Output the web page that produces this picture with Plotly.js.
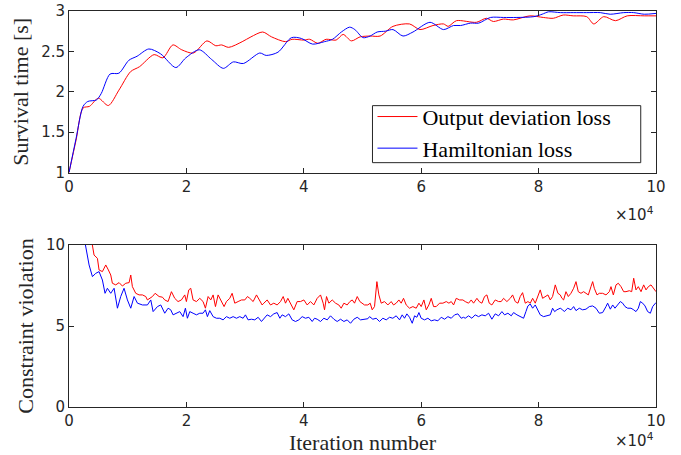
<!DOCTYPE html>
<html>
<head>
<meta charset="utf-8">
<script src="https://cdn.plot.ly/plotly-3.0.1.min.js"></script>
<style>html,body{margin:0;padding:0;background:#fff;}#chart{width:681px;height:455px;}</style>
</head>
<body>
<div id="chart"></div>
<script>
// ---- Survival time (top panel), x in units of 1e4 iterations ----
const survOutX = [0, 0.12, 0.24, 0.35, 0.5, 0.67, 0.85, 1.05, 1.2, 1.45, 1.6, 1.77, 1.92, 2.12, 2.35, 2.5, 2.6, 2.72, 2.95, 3.1, 3.3, 3.45, 3.69, 3.8, 4.0, 4.1, 4.24, 4.38, 4.55, 4.67, 4.81, 4.96, 5.13, 5.3, 5.52, 5.8, 5.98, 6.2, 6.38, 6.46, 6.6, 6.94, 7.11, 7.23, 7.4, 7.57, 7.85, 8.08, 8.25, 8.42, 8.59, 8.82, 8.94, 9.11, 9.31, 9.51, 9.8, 10];
const survOutY = [1, 1.4, 1.80, 1.82, 1.92, 1.83, 2.02, 2.25, 2.31, 2.46, 2.42, 2.58, 2.52, 2.48, 2.63, 2.57, 2.58, 2.55, 2.62, 2.68, 2.74, 2.68, 2.62, 2.65, 2.64, 2.65, 2.60, 2.65, 2.64, 2.71, 2.63, 2.68, 2.69, 2.69, 2.81, 2.84, 2.77, 2.82, 2.84, 2.81, 2.88, 2.86, 2.91, 2.87, 2.90, 2.89, 2.94, 2.92, 2.91, 2.95, 2.94, 2.93, 2.84, 2.93, 2.88, 2.94, 2.94, 2.94];
const survHamX = [0, 0.12, 0.24, 0.32, 0.47, 0.55, 0.7, 0.85, 1.02, 1.16, 1.36, 1.56, 1.82, 1.99, 2.22, 2.43, 2.63, 2.8, 2.97, 3.25, 3.36, 3.56, 3.79, 3.96, 4.15, 4.35, 4.49, 4.64, 4.78, 4.87, 5.01, 5.13, 5.25, 5.39, 5.52, 5.69, 5.86, 6.15, 6.38, 6.55, 6.67, 6.84, 6.98, 7.18, 7.4, 7.63, 7.92, 8.06, 8.17, 8.37, 8.59, 8.82, 9.05, 9.22, 9.45, 9.62, 9.8, 10];
const survHamY = [1, 1.42, 1.82, 1.88, 1.90, 1.98, 2.22, 2.23, 2.39, 2.44, 2.53, 2.47, 2.30, 2.42, 2.52, 2.40, 2.29, 2.37, 2.35, 2.48, 2.45, 2.49, 2.67, 2.66, 2.59, 2.62, 2.65, 2.74, 2.80, 2.77, 2.67, 2.69, 2.74, 2.75, 2.77, 2.69, 2.74, 2.86, 2.77, 2.82, 2.82, 2.85, 2.85, 2.92, 2.92, 2.92, 2.93, 2.96, 2.99, 2.98, 2.98, 2.98, 2.98, 2.96, 2.98, 2.98, 2.96, 2.97];

// ---- Constraint violation (bottom panel) ----
const cvOutX = [0.37, 0.399, 0.427, 0.484, 0.512, 0.569, 0.626, 0.671, 0.711, 0.739, 0.796, 0.853, 0.910, 0.967, 1.024, 1.052, 1.080, 1.137, 1.194, 1.251, 1.308, 1.336, 1.421, 1.467, 1.535, 1.592,
  1.631, 1.688, 1.745, 1.801, 1.858, 1.915, 1.972, 2.000, 2.040, 2.074, 2.114, 2.171, 2.228, 2.284, 2.324, 2.370, 2.415, 2.455, 2.495, 2.540, 2.597, 2.642, 2.682, 2.739, 2.779, 2.824, 2.881, 2.938, 2.995, 3.040, 3.080, 3.137, 3.194, 3.250, 3.290,
  3.319, 3.376, 3.433, 3.489, 3.546, 3.603, 3.649, 3.688, 3.728, 3.774, 3.830, 3.887, 3.944, 4.001, 4.058, 4.114, 4.171, 4.228, 4.285, 4.330, 4.353, 4.387, 4.427, 4.484, 4.541, 4.597, 4.637, 4.683, 4.739, 4.785, 4.825, 4.864, 4.910, 4.955, 4.995,
  5.034, 5.091, 5.131, 5.165, 5.205, 5.245, 5.279, 5.319, 5.375, 5.432, 5.489, 5.529, 5.574, 5.620, 5.659, 5.699, 5.745, 5.801, 5.858, 5.915, 5.961, 6.000, 6.046, 6.086, 6.131, 6.171, 6.211, 6.256, 6.313, 6.370, 6.427, 6.472, 6.512, 6.552, 6.597, 6.654,
  6.710, 6.750, 6.807, 6.852, 6.892, 6.949, 6.988, 7.034, 7.079, 7.119, 7.159, 7.204, 7.261, 7.318, 7.363, 7.403, 7.460, 7.517, 7.557, 7.602, 7.648, 7.687, 7.727, 7.773, 7.818, 7.858, 7.898, 7.943, 7.989, 8.028, 8.068, 8.113, 8.159, 8.199, 8.238, 8.284, 8.329, 8.369,
  8.398, 8.426, 8.466, 8.506, 8.551, 8.597, 8.637, 8.676, 8.722, 8.767, 8.807, 8.847, 8.892, 8.921, 8.949, 8.995, 9.034, 9.091, 9.148, 9.205, 9.233, 9.273, 9.319, 9.358, 9.404, 9.449, 9.489, 9.546, 9.586, 9.620, 9.659, 9.699, 9.745, 9.790, 9.830, 9.870, 9.915, 9.961, 10.0];
const cvOutY = [10.6, 9.94, 9.38, 9.18, 8.46, 8.36, 8.77, 8.46, 8.15, 7.64, 7.54, 7.68, 7.47, 7.64, 7.68, 8.15, 7.43, 7.02, 6.92, 6.92, 6.82, 6.61, 6.82, 7.02, 6.82, 6.78,
  6.61, 6.51, 7.12, 6.71, 6.51, 6.61, 6.92, 6.51, 7.23, 7.33, 6.61, 6.51, 6.71, 6.51, 6.10, 6.82, 6.61, 6.92, 6.20, 6.92, 6.51, 6.20, 6.51, 6.71, 7.02, 6.41, 6.51, 6.61, 6.61, 6.82, 6.71, 6.51, 6.92, 6.51, 6.30,
  6.41, 6.61, 6.30, 6.41, 6.30, 6.51, 6.82, 6.41, 6.71, 6.41, 6.00, 6.51, 6.51, 6.61, 6.30, 6.51, 6.30, 6.71, 6.92, 6.41, 6.00, 6.82, 6.41, 6.61, 6.41, 6.30, 6.10, 6.41, 6.30, 6.51, 6.61, 6.41, 6.82, 6.51, 6.41,
  6.30, 6.30, 6.41, 6.00, 6.20, 7.74, 6.92, 6.41, 6.51, 6.30, 6.51, 6.30, 6.41, 6.61, 6.41, 6.71, 6.30, 6.10, 6.20, 6.10, 6.41, 6.20, 6.61, 6.00, 6.30, 6.71, 6.20, 6.20, 6.41, 6.41, 6.51, 6.41, 6.51, 6.30, 6.71, 6.61,
  6.61, 6.51, 6.41, 6.61, 6.41, 6.71, 6.51, 6.41, 6.82, 6.92, 6.41, 6.30, 6.61, 6.51, 6.51, 6.71, 6.51, 6.71, 6.92, 6.51, 6.41, 6.82, 7.06, 6.41, 6.51, 6.41, 6.71, 6.41, 6.92, 7.23, 6.71, 6.82, 6.92, 6.61, 6.82, 7.54, 7.02, 6.92,
  6.71, 6.61, 7.12, 6.82, 7.02, 7.33, 7.74, 7.12, 7.02, 7.12, 7.02, 6.92, 7.43, 7.74, 7.33, 6.92, 7.02, 7.02, 6.92, 7.12, 7.43, 6.92, 7.54, 7.64, 7.43, 7.12, 7.12, 7.18, 7.12, 7.95, 7.23, 7.43, 7.12, 7.54, 7.23, 7.43, 7.54, 7.33, 7.12];

const cvHamX = [0.25, 0.285, 0.342, 0.399, 0.455, 0.512, 0.569, 0.614, 0.654, 0.711, 0.768, 0.825, 0.881, 0.938, 0.995, 1.052, 1.109, 1.166, 1.251, 1.336, 1.393, 1.433, 1.507, 1.563,
  1.631, 1.688, 1.733, 1.773, 1.830, 1.887, 1.943, 1.983, 2.017, 2.057, 2.114, 2.171, 2.228, 2.284, 2.324, 2.358, 2.398, 2.455, 2.512, 2.569, 2.625, 2.682, 2.739, 2.796, 2.853, 2.909, 2.966, 3.006, 3.051, 3.108, 3.165, 3.222, 3.279,
  3.319, 3.376, 3.433, 3.489, 3.546, 3.592, 3.631, 3.688, 3.745, 3.802, 3.859, 3.916, 3.972, 4.029, 4.086, 4.143, 4.183, 4.228, 4.285, 4.342, 4.399, 4.455, 4.512, 4.569, 4.626, 4.683, 4.739, 4.796, 4.853, 4.910, 4.967,
  5.034, 5.091, 5.120, 5.176, 5.233, 5.290, 5.347, 5.404, 5.461, 5.517, 5.574, 5.631, 5.676, 5.716, 5.756, 5.801, 5.847, 5.887, 5.926, 5.961, 6.000, 6.057, 6.114, 6.171, 6.228, 6.284, 6.341, 6.398, 6.455, 6.512, 6.569, 6.625, 6.682,
  6.721, 6.750, 6.807, 6.863, 6.920, 6.977, 7.034, 7.091, 7.148, 7.204, 7.261, 7.318, 7.375, 7.420, 7.477, 7.534, 7.574, 7.631, 7.687, 7.744, 7.784, 7.818, 7.858, 7.898, 7.943, 7.989, 8.028, 8.085, 8.142, 8.199, 8.238, 8.273, 8.312, 8.369,
  8.409, 8.438, 8.495, 8.551, 8.597, 8.637, 8.693, 8.750, 8.807, 8.864, 8.921, 8.978, 9.034, 9.091, 9.148, 9.176, 9.222, 9.262, 9.301, 9.347, 9.392, 9.432, 9.472, 9.517, 9.574, 9.620, 9.659, 9.699, 9.733, 9.773, 9.813, 9.858, 9.904, 9.943, 9.983, 10.0];
const cvHamY = [10.6, 9.94, 8.77, 8.05, 8.25, 8.36, 7.84, 7.02, 7.33, 7.02, 7.33, 6.10, 6.82, 7.33, 6.61, 6.10, 6.82, 6.41, 6.30, 6.30, 6.61, 5.89, 6.20, 6.30,
  5.79, 6.10, 6.00, 5.69, 5.79, 5.89, 5.58, 6.10, 5.48, 5.89, 5.79, 5.69, 5.79, 5.79, 6.00, 5.58, 5.95, 5.58, 5.48, 5.48, 5.38, 5.58, 5.48, 5.58, 5.48, 5.58, 5.48, 5.69, 5.38, 5.42, 5.38, 5.54, 5.28,
  5.48, 5.69, 5.58, 5.75, 5.83, 5.48, 5.69, 5.58, 5.75, 5.38, 5.28, 5.38, 5.58, 5.48, 5.54, 5.28, 5.48, 5.42, 5.28, 5.48, 5.38, 5.63, 5.42, 5.28, 5.42, 5.28, 5.38, 5.17, 5.42, 5.54, 5.38,
  5.42, 5.45, 5.58, 5.42, 5.48, 5.28, 5.48, 5.38, 5.54, 5.48, 5.63, 5.38, 5.69, 5.48, 5.75, 5.54, 5.17, 5.63, 5.54, 5.83, 5.48, 5.38, 5.48, 5.32, 5.38, 5.32, 5.54, 5.42, 5.58, 5.48, 5.69, 5.75, 5.48,
  5.54, 5.48, 5.63, 5.48, 5.69, 5.58, 5.69, 5.63, 5.79, 5.42, 5.75, 5.63, 5.89, 5.69, 5.79, 5.63, 5.83, 5.69, 5.58, 5.48, 5.89, 6.24, 6.36, 6.10, 6.30, 6.00, 5.69, 5.58, 5.63, 5.69, 6.10, 5.89, 6.00, 6.10,
  6.00, 5.89, 6.10, 6.00, 6.20, 5.95, 6.10, 6.00, 6.04, 6.20, 6.24, 6.10, 5.79, 5.83, 6.20, 6.41, 6.04, 6.30, 6.10, 6.30, 6.51, 6.41, 6.20, 6.10, 6.10, 6.00, 5.89, 6.10, 6.51, 6.41, 6.24, 5.89, 5.79, 6.20, 6.41, 6.45];

const xTickVals = [0, 2, 4, 6, 8, 10];
const xTickText = ['0', '2', '4', '6', '8', '10'];
const survTicks = [1, 1.5, 2, 2.5, 3];
const survTickText = ['1', '1.5', '2', '2.5', '3'];
const cvTicks = [0, 5, 10];
const cvTickText = ['0', '5', '10'];
const seriesNames = ['Output deviation loss', 'Hamiltonian loss'];

const RED = '#ff0000', BLUE = '#0000ff', AX = '#262626';
const tickFont = {family: 'DejaVu Sans, sans-serif', size: 15, color: AX};
const serif = 'Liberation Serif, DejaVu Serif, serif';
const titleFont = {family: serif, size: 22, color: AX};

const traces = [
  {x: survOutX, y: survOutY, xaxis: 'x', yaxis: 'y', type: 'scatter', mode: 'lines', name: seriesNames[0],
   line: {color: RED, width: 1, shape: 'spline', smoothing: 0.8}},
  {x: survHamX, y: survHamY, xaxis: 'x', yaxis: 'y', type: 'scatter', mode: 'lines', name: seriesNames[1],
   line: {color: BLUE, width: 1, shape: 'spline', smoothing: 0.8}},
  {x: cvOutX, y: cvOutY, xaxis: 'x2', yaxis: 'y2', type: 'scatter', mode: 'lines', showlegend: false,
   line: {color: RED, width: 1}},
  {x: cvHamX, y: cvHamY, xaxis: 'x2', yaxis: 'y2', type: 'scatter', mode: 'lines', showlegend: false,
   line: {color: BLUE, width: 1}}
];

const axisCommon = {
  showline: true, linecolor: AX, linewidth: 1, mirror: 'ticks', ticks: 'inside', ticklen: 5,
  tickcolor: AX, tickwidth: 1, showgrid: false, zeroline: false, tickfont: tickFont
};

// legend frame (drawn as a paper-space box, legend entries placed inside it)
const legBox = {x0: 0.517, x1: 0.974, y0: 0.617, y1: 0.761};

const layout = {
  width: 681, height: 455,
  margin: {l: 69, r: 25, t: 11, b: 48},
  paper_bgcolor: '#ffffff', plot_bgcolor: '#ffffff',
  showlegend: true,
  legend: {x: 0.517, y: 0.786, xanchor: 'left', yanchor: 'top', bgcolor: 'rgba(0,0,0,0)',
    borderwidth: 0, font: {family: serif, size: 22, color: '#000'},
    tracegroupgap: 0, itemwidth: 40},
  shapes: [
    {type: 'rect', xref: 'paper', yref: 'paper', x0: legBox.x0, x1: legBox.x1, y0: legBox.y0, y1: legBox.y1,
     line: {color: AX, width: 1}, fillcolor: '#ffffff', layer: 'above'}
  ],
  xaxis: Object.assign({}, axisCommon, {domain: [0, 1], range: [0, 10], anchor: 'y',
    tickmode: 'array', tickvals: xTickVals, ticktext: xTickText}),
  yaxis: Object.assign({}, axisCommon, {domain: [0.592, 1], range: [1, 3], anchor: 'x',
    tickmode: 'array', tickvals: survTicks, ticktext: survTickText,
    title: {text: 'Survival time [s]', font: titleFont, standoff: 6}}),
  xaxis2: Object.assign({}, axisCommon, {domain: [0, 1], range: [0, 10], anchor: 'y2',
    tickmode: 'array', tickvals: xTickVals, ticktext: xTickText,
    title: {text: 'Iteration number', font: titleFont, standoff: 0}}),
  yaxis2: Object.assign({}, axisCommon, {domain: [0, 0.409], range: [0, 10], anchor: 'x2',
    tickmode: 'array', tickvals: cvTicks, ticktext: cvTickText,
    title: {text: 'Constraint violation', font: titleFont, standoff: 6}}),
  annotations: [
    {xref: 'paper', yref: 'paper', x: 1, y: 0.592, xanchor: 'right', yanchor: 'top', yshift: -29,
     text: '×10<sup>4</sup>', showarrow: false, font: tickFont},
    {xref: 'paper', yref: 'paper', x: 1, y: 0, xanchor: 'right', yanchor: 'top', yshift: -21,
     text: '×10<sup>4</sup>', showarrow: false, font: tickFont}
  ]
};

Plotly.newPlot('chart', traces, layout, {staticPlot: true, displayModeBar: false});
</script>
</body>
</html>
